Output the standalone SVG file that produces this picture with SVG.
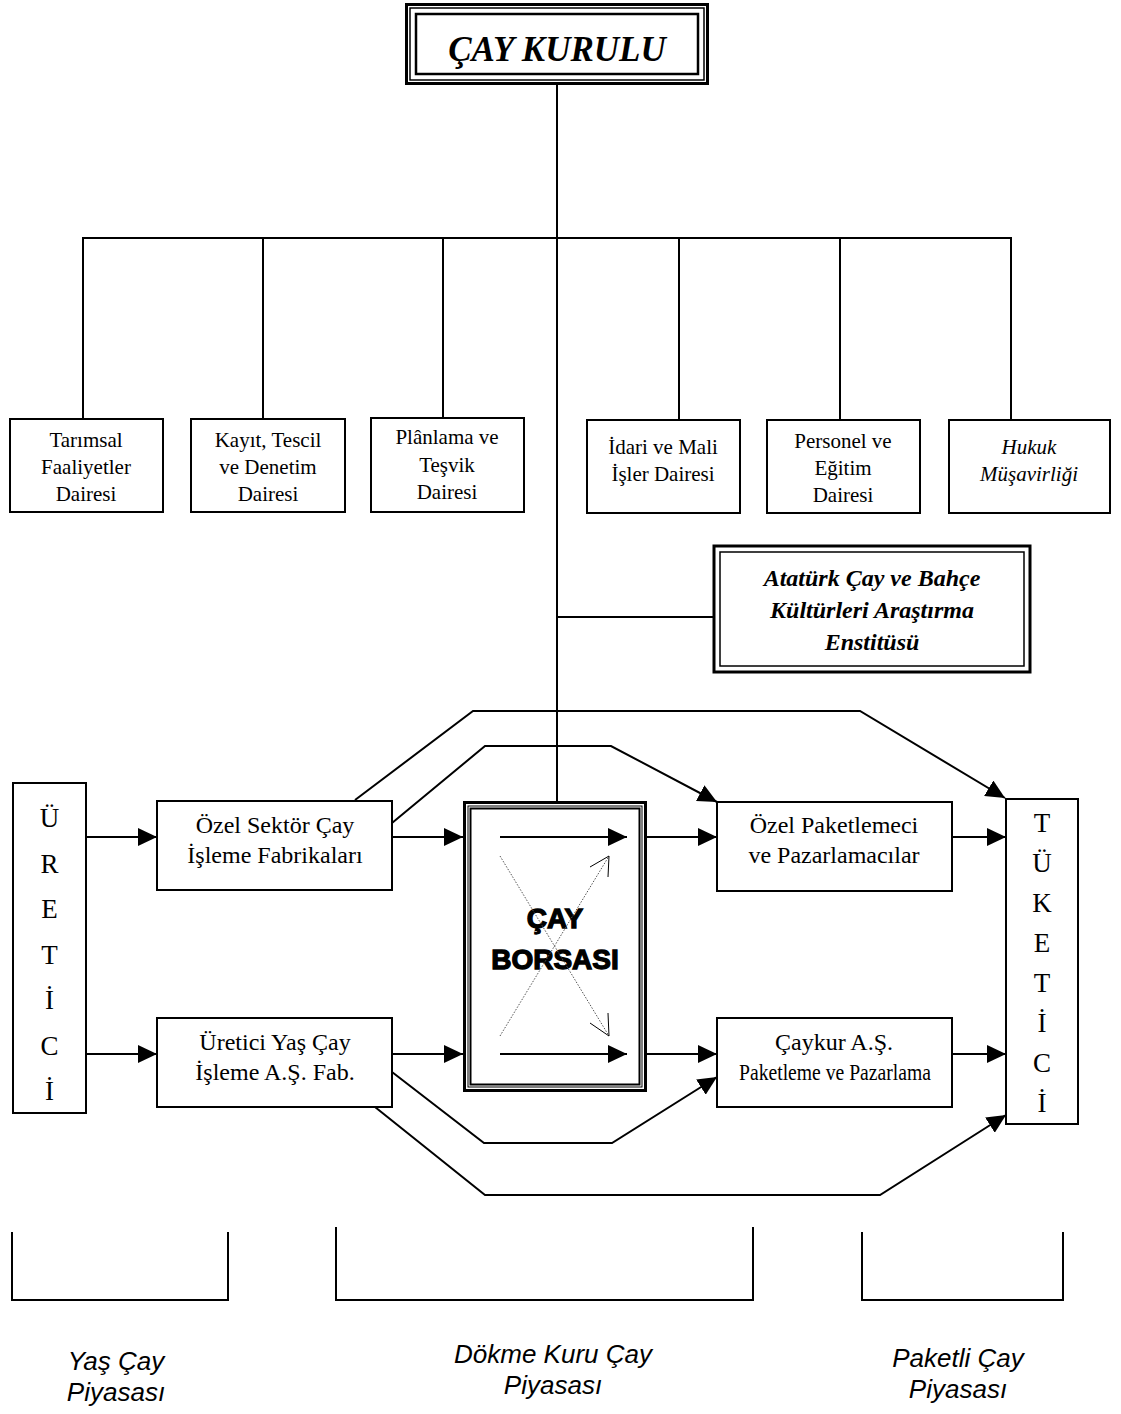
<svg xmlns="http://www.w3.org/2000/svg" width="1121" height="1414" viewBox="0 0 1121 1414">
<style>
.bx{fill:#fff;stroke:#000;stroke-width:2}
.ln{fill:none;stroke:#000;stroke-width:2}
.dept{font-family:"Liberation Serif","Times New Roman",serif;font-size:21px;text-anchor:middle;fill:#000}
.flow{font-family:"Liberation Serif","Times New Roman",serif;font-size:24px;text-anchor:middle;fill:#000}
.vert{font-family:"Liberation Serif","Times New Roman",serif;font-size:27px;text-anchor:middle;fill:#000}
.mk{font-family:"Liberation Sans",Arial,sans-serif;font-size:26px;font-style:italic;text-anchor:middle;fill:#000}
.bi{font-family:"Liberation Serif","Times New Roman",serif;font-weight:bold;font-style:italic;text-anchor:middle;fill:#000}
.heavy{font-family:"Liberation Sans",Arial,sans-serif;font-weight:bold;font-size:28px;text-anchor:middle;fill:#000;stroke:#000;stroke-width:1.3}
</style>
<defs>
<marker id="ah" markerUnits="userSpaceOnUse" markerWidth="20" markerHeight="18" refX="19" refY="9" orient="auto" viewBox="0 0 20 18">
<path d="M0,0 L19,9 L0,18 z" fill="#000"/>
</marker>
</defs>
<rect width="1121" height="1414" fill="#fff"/>

<g id="cay-kurulu">
<rect x="406.5" y="4.5" width="301" height="79" fill="#fff" stroke="#000" stroke-width="3"/>
<rect x="410" y="8" width="294" height="72" fill="none" stroke="#000" stroke-width="1.5"/>
<rect x="416" y="14" width="282" height="60" fill="none" stroke="#000" stroke-width="2.5"/>
<text class="bi" x="557" y="61" font-size="35">ÇAY KURULU</text>
</g>

<g id="tarimsal">
<rect class="bx" x="10" y="419" width="153" height="93"/>
<text class="dept" x="86" y="447">Tarımsal</text>
<text class="dept" x="86" y="474">Faaliyetler</text>
<text class="dept" x="86" y="501">Dairesi</text>
</g>
<g id="kayit">
<rect class="bx" x="191" y="419" width="154" height="93"/>
<text class="dept" x="268" y="447">Kayıt, Tescil</text>
<text class="dept" x="268" y="474">ve Denetim</text>
<text class="dept" x="268" y="501">Dairesi</text>
</g>
<g id="planlama">
<rect class="bx" x="371" y="418" width="153" height="94"/>
<text class="dept" x="447" y="444">Plânlama ve</text>
<text class="dept" x="447" y="472">Teşvik</text>
<text class="dept" x="447" y="499">Dairesi</text>
</g>
<g id="idari">
<rect class="bx" x="587" y="420" width="153" height="93"/>
<text class="dept" x="663" y="454">İdari ve Mali</text>
<text class="dept" x="663" y="481">İşler Dairesi</text>
</g>
<g id="personel">
<rect class="bx" x="767" y="420" width="153" height="93"/>
<text class="dept" x="843" y="448">Personel ve</text>
<text class="dept" x="843" y="475">Eğitim</text>
<text class="dept" x="843" y="502">Dairesi</text>
</g>
<g id="hukuk">
<rect class="bx" x="949" y="420" width="161" height="93"/>
<text class="dept" x="1029" y="454" font-style="italic">Hukuk</text>
<text class="dept" x="1029" y="481" font-style="italic">Müşavirliği</text>
</g>

<g id="ataturk">
<rect x="714" y="546" width="316" height="126" fill="#fff" stroke="#000" stroke-width="3"/>
<rect x="720" y="552" width="304" height="114" fill="none" stroke="#000" stroke-width="1.5"/>
<text class="bi" x="872" y="586" font-size="24">Atatürk Çay ve Bahçe</text>
<text class="bi" x="872" y="618" font-size="24">Kültürleri Araştırma</text>
<text class="bi" x="872" y="650" font-size="24">Enstitüsü</text>
</g>

<g id="uretici">
<rect class="bx" x="13" y="783" width="73" height="330"/>
<text class="vert" x="49.5" y="827">Ü</text>
<text class="vert" x="49.5" y="873">R</text>
<text class="vert" x="49.5" y="918">E</text>
<text class="vert" x="49.5" y="964">T</text>
<text class="vert" x="49.5" y="1009">İ</text>
<text class="vert" x="49.5" y="1055">C</text>
<text class="vert" x="49.5" y="1100">İ</text>
</g>

<g id="ozel-sektor">
<rect class="bx" x="157" y="801" width="235" height="89"/>
<text class="flow" x="275" y="833">Özel Sektör Çay</text>
<text class="flow" x="275" y="863">İşleme Fabrikaları</text>
</g>
<g id="uretici-yas">
<rect class="bx" x="157" y="1018" width="235" height="89"/>
<text class="flow" x="275" y="1050">Üretici Yaş Çay</text>
<text class="flow" x="275" y="1080">İşleme A.Ş. Fab.</text>
</g>

<g id="cay-borsasi">
<rect x="464.5" y="802.5" width="181" height="288" fill="#fff" stroke="#000" stroke-width="3"/>
<rect x="468" y="806" width="174" height="281" fill="none" stroke="#000" stroke-width="1"/>
<rect x="470.5" y="808.5" width="169" height="276" fill="none" stroke="#000" stroke-width="2"/>
<text class="heavy" x="555" y="928">ÇAY</text>
<text class="heavy" x="555" y="969">BORSASI</text>
</g>

<g id="ozel-paketlemeci">
<rect class="bx" x="717" y="802" width="235" height="89"/>
<text class="flow" x="834" y="833">Özel Paketlemeci</text>
<text class="flow" x="834" y="863">ve Pazarlamacılar</text>
</g>
<g id="caykur">
<rect class="bx" x="717" y="1018" width="235" height="89"/>
<text class="flow" x="834" y="1050">Çaykur A.Ş.</text>
<text class="flow" x="835" y="1080" font-size="21" textLength="192" lengthAdjust="spacingAndGlyphs">Paketleme ve Pazarlama</text>
</g>

<g id="tuketici">
<rect class="bx" x="1006" y="799" width="72" height="325"/>
<text class="vert" x="1042" y="832">T</text>
<text class="vert" x="1042" y="872">Ü</text>
<text class="vert" x="1042" y="912">K</text>
<text class="vert" x="1042" y="952">E</text>
<text class="vert" x="1042" y="992">T</text>
<text class="vert" x="1042" y="1032">İ</text>
<text class="vert" x="1042" y="1072">C</text>
<text class="vert" x="1042" y="1112">İ</text>
</g>

<g id="markets">
<polyline class="ln" points="12,1232 12,1300 228,1300 228,1232" stroke-width="1.5"/>
<polyline class="ln" points="336,1227 336,1300 753,1300 753,1227" stroke-width="1.5"/>
<polyline class="ln" points="862,1232 862,1300 1063,1300 1063,1232" stroke-width="1.5"/>
<text class="mk" x="116" y="1370">Yaş Çay</text>
<text class="mk" x="116" y="1401">Piyasası</text>
<text class="mk" x="553" y="1363">Dökme Kuru Çay</text>
<text class="mk" x="553" y="1394">Piyasası</text>
<text class="mk" x="958" y="1367">Paketli Çay</text>
<text class="mk" x="958" y="1398">Piyasası</text>
</g>

<g id="connectors">
<line class="ln" x1="557" y1="84" x2="557" y2="801"/>
<polyline class="ln" points="83,418 83,238 1011,238 1011,419"/>
<line class="ln" x1="263" y1="238" x2="263" y2="418"/>
<line class="ln" x1="443" y1="238" x2="443" y2="417"/>
<line class="ln" x1="679" y1="238" x2="679" y2="419"/>
<line class="ln" x1="840" y1="238" x2="840" y2="419"/>
<line class="ln" x1="557" y1="617" x2="713" y2="617"/>
<line class="ln" x1="86" y1="837" x2="157" y2="837" marker-end="url(#ah)"/>
<line class="ln" x1="86" y1="1054" x2="157" y2="1054" marker-end="url(#ah)"/>
<line class="ln" x1="392" y1="837" x2="463" y2="837" marker-end="url(#ah)"/>
<line class="ln" x1="392" y1="1054" x2="463" y2="1054" marker-end="url(#ah)"/>
<line class="ln" x1="646" y1="837" x2="717" y2="837" marker-end="url(#ah)"/>
<line class="ln" x1="646" y1="1054" x2="717" y2="1054" marker-end="url(#ah)"/>
<line class="ln" x1="952" y1="837" x2="1006" y2="837" marker-end="url(#ah)"/>
<line class="ln" x1="952" y1="1054" x2="1006" y2="1054" marker-end="url(#ah)"/>
<polyline class="ln" points="355,800 473,711 860,711 1005,798" marker-end="url(#ah)"/>
<polyline class="ln" points="392,823 485,746 611,746 717,802" marker-end="url(#ah)"/>
<polyline class="ln" points="392,1072 484,1143 612,1143 717,1077" marker-end="url(#ah)"/>
<polyline class="ln" points="375,1107 485,1195 880,1195 1006,1115" marker-end="url(#ah)"/>
<line class="ln" x1="500" y1="837" x2="627" y2="837" marker-end="url(#ah)"/>
<line class="ln" x1="500" y1="1054" x2="627" y2="1054" marker-end="url(#ah)"/>
<line x1="500" y1="856" x2="609" y2="1036" stroke="#555" stroke-width="1" stroke-dasharray="1.5,1.5"/>
<line x1="500" y1="1036" x2="609" y2="856" stroke="#555" stroke-width="1" stroke-dasharray="1.5,1.5"/>
<polyline points="590,867 609,856 608,877" fill="none" stroke="#000" stroke-width="1"/>
<polyline points="590,1023 609,1036 608,1013" fill="none" stroke="#000" stroke-width="1"/>
</g>
</svg>
